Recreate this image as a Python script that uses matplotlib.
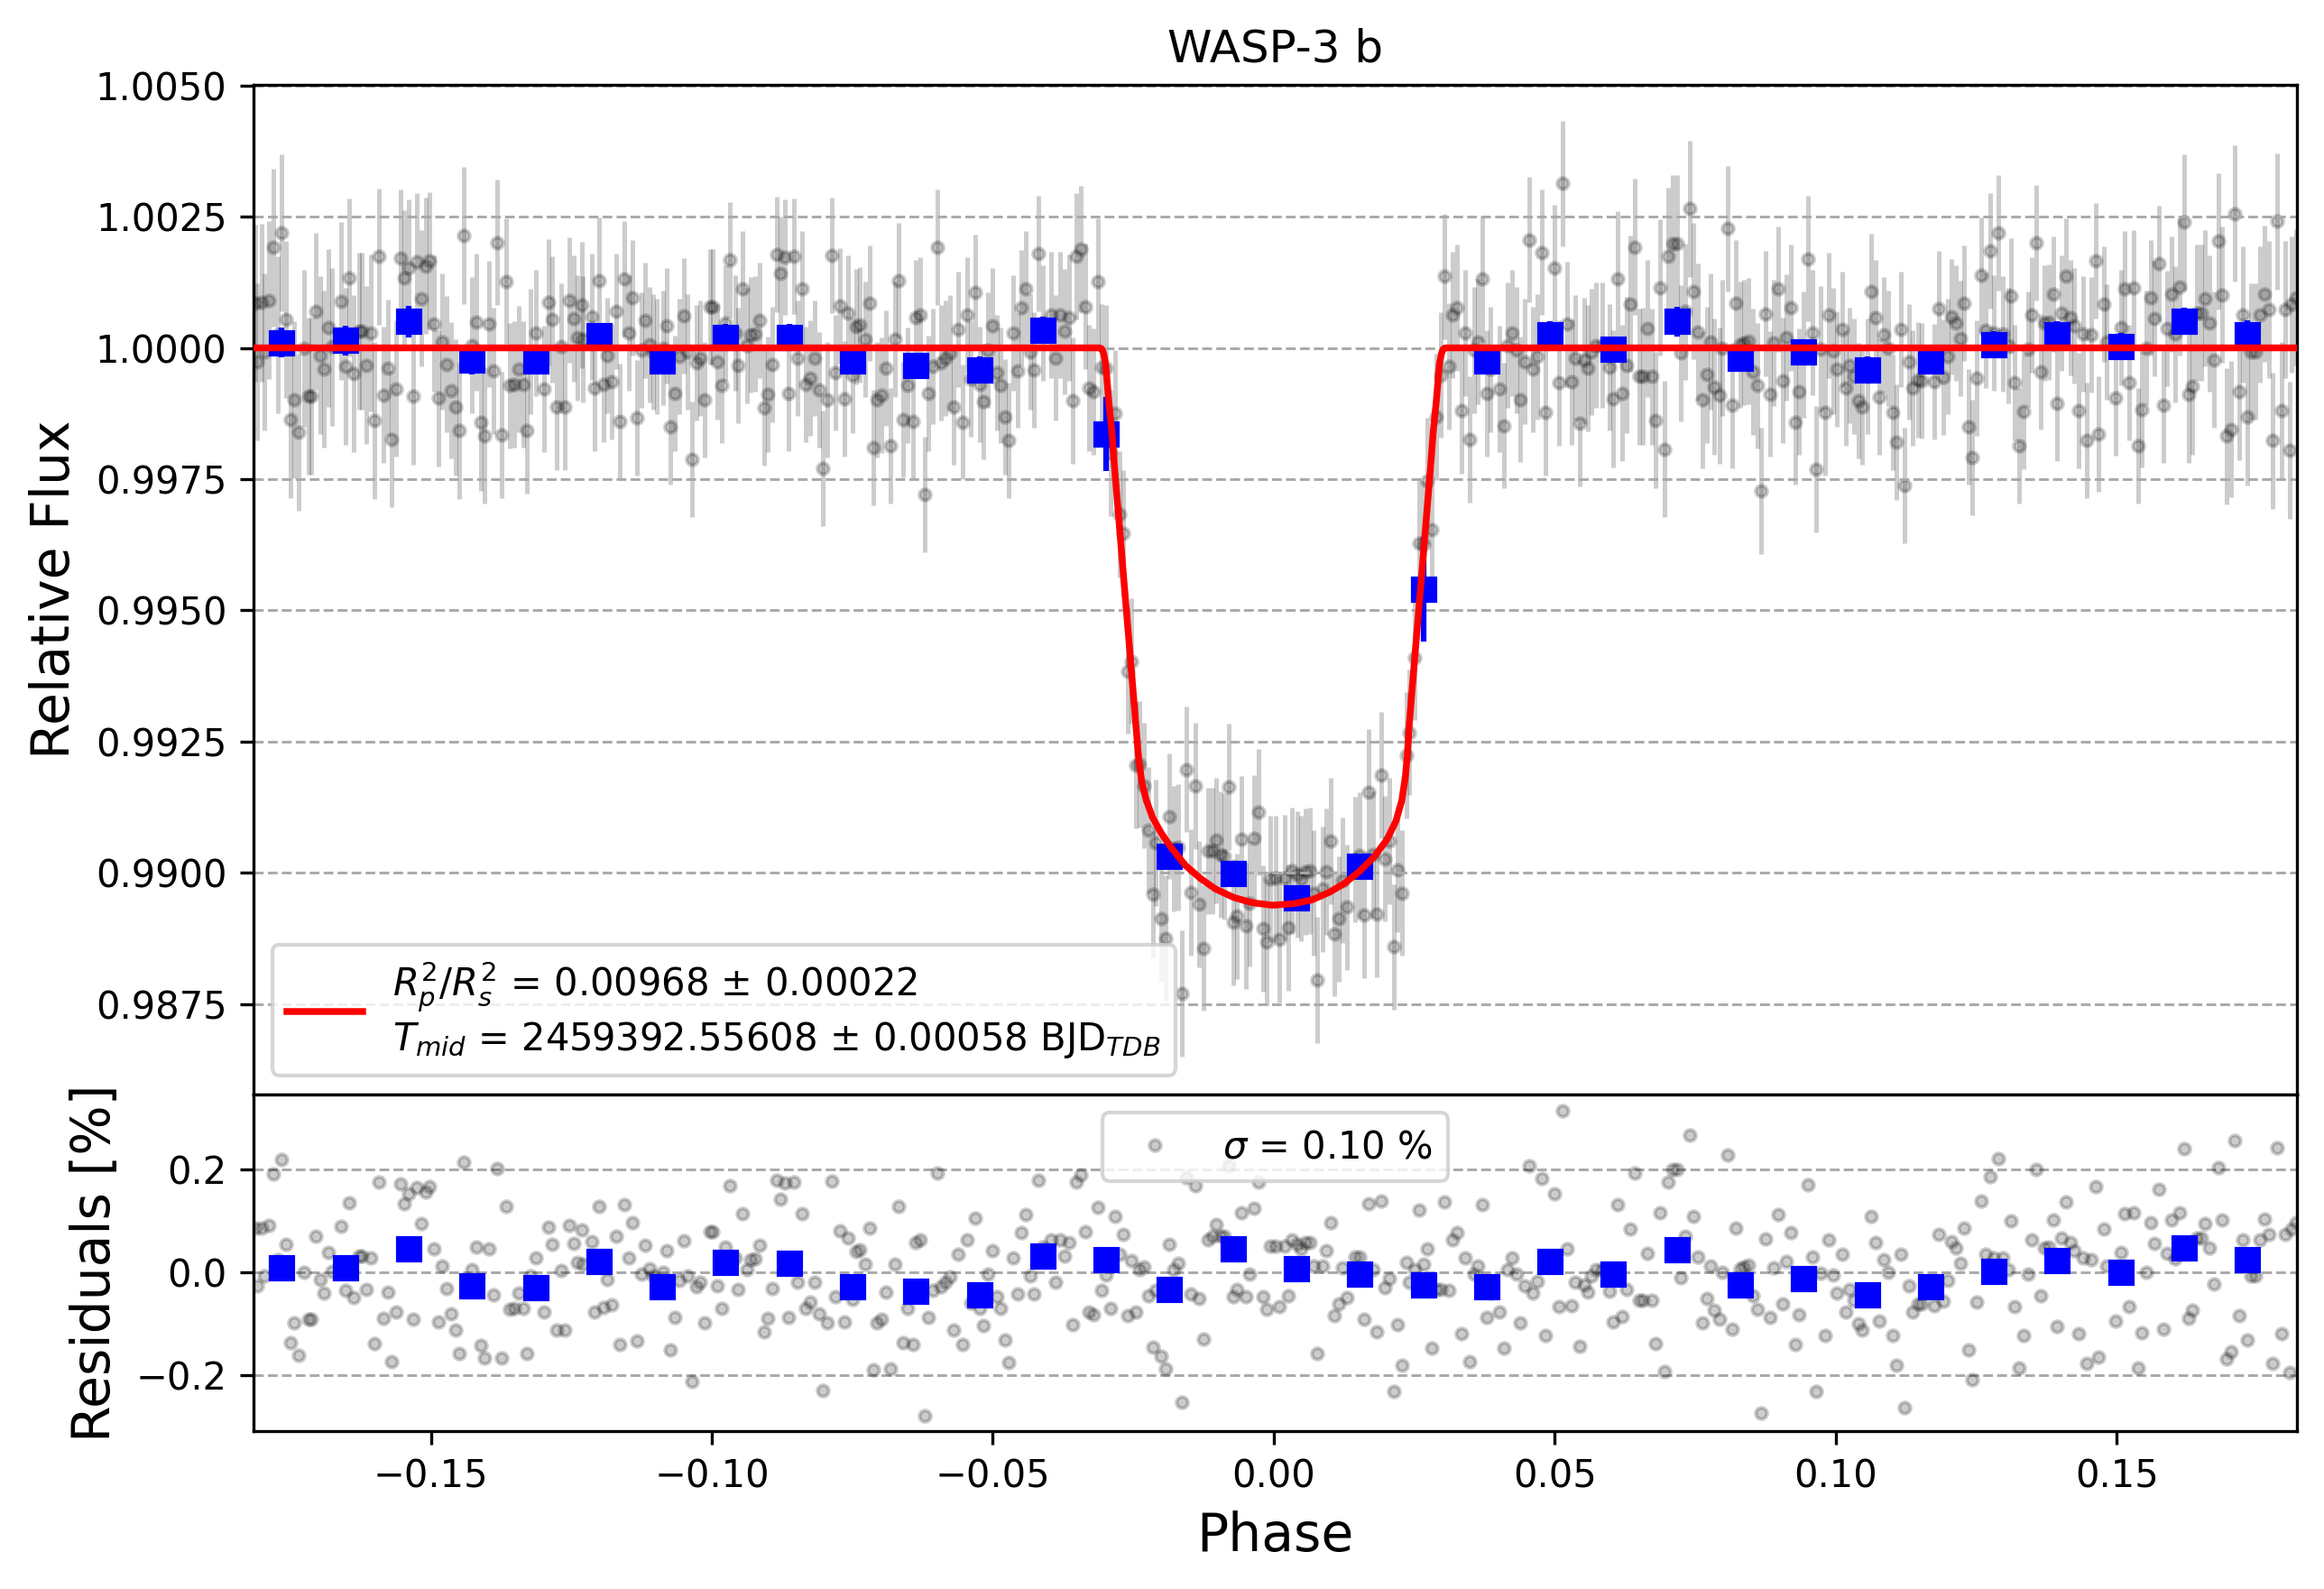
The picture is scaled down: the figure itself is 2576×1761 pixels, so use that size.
import matplotlib
matplotlib.use("Agg")
import matplotlib.pyplot as plt
import numpy as np
from matplotlib.ticker import MultipleLocator, FormatStrFormatter

TARGET = "WASP-3 b"

# residuals of the unbinned points (phase, percent)
res_phase = np.array([
    -0.18122, -0.18095, -0.18015, -0.17961, -0.17881, -0.17800, -0.17720, -0.17656, -0.17576, -0.17501,
    -0.17437, -0.17356, -0.17265, -0.17185, -0.17132, -0.17051, -0.16966, -0.16907, -0.16821, -0.16757,
    -0.16607, -0.16516, -0.16458, -0.16372, -0.16276, -0.16222, -0.16153, -0.16062, -0.16008, -0.15922,
    -0.15848, -0.15767, -0.15703, -0.15617, -0.15543, -0.15473, -0.15398, -0.15313, -0.15248, -0.15163,
    -0.15093, -0.15024, -0.14949, -0.14863, -0.14804, -0.14719, -0.14638, -0.14558, -0.14499, -0.14414,
    -0.14269, -0.14189, -0.14109, -0.14050, -0.13964, -0.13884, -0.13814, -0.13745, -0.13654, -0.13595,
    -0.13520, -0.13440, -0.13360, -0.13295, -0.13226, -0.13130, -0.12985, -0.12905, -0.12841, -0.12755,
    -0.12680, -0.12611, -0.12541, -0.12455, -0.12386, -0.12306, -0.12290,
    -0.12140, -0.12086, -0.12006, -0.11926, -0.11862, -0.11776, -0.11701, -0.11637, -0.11551, -0.11477,
    -0.11407, -0.11332, -0.11257, -0.11188, -0.11107, -0.11043, -0.10974, -0.10872, -0.10802, -0.10738,
    -0.10658, -0.10578, -0.10497, -0.10428, -0.10353, -0.10273, -0.10203, -0.10128, -0.10037, -0.09984,
    -0.09904, -0.09829, -0.09759, -0.09679, -0.09583, -0.09534, -0.09454, -0.09379, -0.09304, -0.09224,
    -0.09149, -0.09074, -0.08999, -0.08930, -0.08849, -0.08780, -0.08705, -0.08630, -0.08545, -0.08470,
    -0.08395, -0.08330, -0.08250, -0.08175, -0.08090, -0.08031, -0.07951, -0.07870, -0.07806, -0.07726,
    -0.07646, -0.07576, -0.07496, -0.07432, -0.07362, -0.07271, -0.07196, -0.07127, -0.07057, -0.06977,
    -0.06907, -0.06827, -0.06747, -0.06672, -0.06602, -0.06522, -0.06426, -0.06378, -0.06298, -0.06217,
    -0.06148,
    -0.06066, -0.05986, -0.05917, -0.05842, -0.05756, -0.05692, -0.05617, -0.05531, -0.05457, -0.05398,
    -0.05307, -0.05237, -0.05168, -0.05087, -0.05007, -0.04932, -0.04863, -0.04782, -0.04718, -0.04638,
    -0.04558, -0.04488, -0.04408, -0.04338, -0.04269, -0.04194, -0.04114, -0.03958, -0.03884, -0.03809,
    -0.03728, -0.03648, -0.03573, -0.03514, -0.03434, -0.03359, -0.03284, -0.03215, -0.03129, -0.03065,
    -0.02990, -0.02910, -0.02830, -0.02738, -0.02680, -0.02599, -0.02530, -0.02455, -0.02385, -0.02310,
    -0.02230, -0.02150, -0.02096, -0.02006, -0.01920, -0.01861, -0.01775, -0.01701, -0.01636, -0.01561,
    -0.01476, -0.01401, -0.01331, -0.01257, -0.01171, -0.01091, -0.01026, -0.00951, -0.00877, -0.00807,
    -0.00727, -0.00652, -0.00577, -0.00502, -0.00433, -0.00352, -0.00272, -0.00192, -0.00128,
    -0.00058, 0.00033, 0.00102, 0.00193, 0.00252, 0.00327, 0.00418, 0.00488, 0.00557, 0.00637,
    0.00702, 0.00771, 0.00862, 0.00937, 0.01012, 0.01076, 0.01151, 0.01226, 0.01301, 0.01451,
    0.01531, 0.01606, 0.01686, 0.01772, 0.01836, 0.01911, 0.01970, 0.02055, 0.02135, 0.02200,
    0.02285, 0.02360, 0.02414, 0.02505, 0.02585, 0.02665, 0.02735, 0.02810, 0.02895, 0.02970,
    0.03034, 0.03115, 0.03184, 0.03259, 0.03339, 0.03403, 0.03484, 0.03564, 0.03634, 0.03703,
    0.03789, 0.03858, 0.04008, 0.04094, 0.04158, 0.04238, 0.04313, 0.04383, 0.04458, 0.04543,
    0.04607, 0.04688, 0.04763, 0.04837, 0.04993, 0.05068, 0.05132, 0.05212, 0.05292, 0.05362,
    0.05442, 0.05517, 0.05581, 0.05651, 0.05731, 0.05838,
    0.05972, 0.06036, 0.06116, 0.06196, 0.06276, 0.06346, 0.06426, 0.06507, 0.06571, 0.06651,
    0.06721, 0.06790, 0.06870, 0.06951, 0.07015, 0.07106, 0.07175, 0.07240, 0.07320, 0.07400,
    0.07464, 0.07550, 0.07630, 0.07710, 0.07775, 0.07844, 0.07930, 0.07989, 0.08074, 0.08154,
    0.08219, 0.08299, 0.08368, 0.08449, 0.08524, 0.08604, 0.08668, 0.08754, 0.08829, 0.08904,
    0.08973, 0.09053, 0.09128, 0.09198, 0.09278, 0.09353, 0.09422, 0.09503, 0.09583, 0.09647,
    0.09727, 0.09808, 0.09877, 0.09958, 0.10027, 0.10113, 0.10177, 0.10252, 0.10332, 0.10402,
    0.10477, 0.10562, 0.10626, 0.10707, 0.10782, 0.10856, 0.10931, 0.11011, 0.11081, 0.11156,
    0.11231, 0.11301, 0.11375, 0.11461, 0.11536, 0.11760, 0.11830, 0.11910,
    0.11992, 0.12056, 0.12141, 0.12222, 0.12280, 0.12361, 0.12436, 0.12505, 0.12585, 0.12671,
    0.12746, 0.12821, 0.12890, 0.12971, 0.13072, 0.13115, 0.13190, 0.13265, 0.13340, 0.13420,
    0.13490, 0.13570, 0.13650, 0.13720, 0.13800, 0.13870, 0.13934, 0.14014, 0.14100, 0.14175,
    0.14244, 0.14324, 0.14399, 0.14469, 0.14549, 0.14624, 0.14683, 0.14768, 0.14827, 0.14988,
    0.15079, 0.15138, 0.15218, 0.15298, 0.15378, 0.15448, 0.15523, 0.15609, 0.15673, 0.15748,
    0.15828, 0.15897, 0.15978, 0.16047, 0.16122, 0.16197, 0.16277, 0.16347, 0.16422, 0.16502,
    0.16571, 0.16646, 0.16727, 0.16807, 0.16877, 0.16957, 0.17032, 0.17101, 0.17181, 0.17251,
    0.17326, 0.17396, 0.17476, 0.17545, 0.17626, 0.17706, 0.17770, 0.17850, 0.17930, 0.18000,
    0.18080, 0.18118, 0.18198,
])
res_pct = np.array([
    0.085, -0.027, 0.086, -0.008, 0.091, 0.191, 0.025, 0.219, 0.054, -0.136,
    -0.099, -0.161, -0.001, -0.092, -0.092, 0.070, -0.014, -0.040, 0.038, 0.002,
    0.089, -0.035, 0.134, -0.049, 0.032, 0.032, -0.033, 0.028, -0.138, 0.174,
    -0.090, -0.038, -0.174, -0.078, 0.171, 0.133, 0.152, -0.092, 0.164, 0.094,
    0.156, 0.166, 0.046, -0.096, 0.012, -0.031, -0.081, -0.113, -0.158, 0.214,
    0.005, 0.049, -0.142, -0.167, 0.046, -0.044, 0.201, -0.166, 0.127, -0.072,
    -0.070, -0.040, -0.070, -0.158, -0.007, 0.028, -0.078, 0.087, 0.054, -0.113,
    0.003, -0.113, 0.091, 0.056, 0.019, 0.082, 0.016,
    0.059, -0.077, 0.128, -0.069, -0.015, -0.064, 0.069, -0.140, 0.131, 0.028,
    0.096, -0.134, -0.004, 0.053, 0.006, -0.007, -0.016, 0.000, 0.042, -0.151,
    -0.087, -0.016, 0.061, -0.008, -0.212, -0.029, -0.020, -0.099, 0.079, 0.079,
    -0.026, -0.071, 0.048, 0.167, 0.028, -0.034, 0.113, 0.005, 0.025, 0.026,
    0.053, -0.115, -0.089, -0.031, 0.178, 0.141, 0.173, -0.087, 0.174, -0.020,
    0.113, -0.070, -0.058, -0.019, -0.080, -0.230, -0.099, 0.176, -0.047, 0.080,
    -0.097, 0.066, -0.053, 0.040, 0.044, 0.016, 0.085, -0.190, -0.099, -0.091,
    -0.038, -0.187, 0.016, 0.128, -0.137, -0.071, -0.140, 0.057, 0.063, -0.279,
    -0.087,
    -0.036, 0.192, -0.029, -0.019, -0.009, -0.112, 0.035, -0.141, 0.063, -0.059,
    0.105, -0.070, -0.103, -0.004, 0.042, -0.048, -0.071, -0.132, -0.176, 0.028,
    -0.043, 0.077, 0.112, -0.008, -0.042, 0.179, 0.048, 0.063, -0.019, 0.063,
    0.031, 0.058, -0.101, 0.174, 0.188, 0.079, -0.077, -0.083, 0.126, -0.035,
    -0.006, -0.071, 0.109, 0.034, 0.074, -0.085, 0.023, -0.078, 0.005, 0.010,
    -0.046, -0.145, -0.036, -0.163, -0.187, 0.054, 0.005, 0.017, -0.252, 0.184,
    -0.043, 0.167, -0.051, -0.129, 0.063, 0.069, 0.093, 0.070, 0.070, 0.206,
    -0.048, -0.034, 0.116, -0.047, -0.003, 0.124, 0.174, -0.047, -0.072,
    0.050, 0.051, -0.066, 0.051, -0.045, 0.063, 0.054, 0.045, 0.057, 0.057,
    0.012, -0.157, 0.012, 0.042, 0.096, -0.084, -0.061, 0.008, -0.049, 0.029,
    0.030, -0.092, 0.133, 0.005, -0.116, 0.138, -0.030, -0.012, -0.231, -0.102,
    -0.181, 0.019, -0.019, 0.005, 0.121, 0.016, 0.045, -0.147, -0.033, -0.033,
    0.137, -0.035, 0.063, 0.077, -0.119, 0.028, -0.174, -0.004, 0.012, 0.131,
    -0.087, -0.041, -0.078, -0.148, 0.005, 0.028, -0.004, -0.098, -0.026, 0.206,
    -0.041, -0.017, 0.182, -0.123, 0.152, -0.067, 0.313, 0.045, -0.065, -0.019,
    -0.144, -0.024, -0.039, -0.008, 0.005, 0.005,
    -0.037, -0.097, 0.131, -0.086, -0.033, 0.084, 0.192, -0.055, -0.054, 0.037,
    -0.055, -0.138, 0.115, -0.193, 0.175, 0.199, 0.199, -0.010, 0.069, 0.265,
    0.108, 0.030, -0.099, -0.051, 0.012, -0.074, -0.091, 0.000, 0.227, -0.110,
    0.085, 0.006, 0.010, 0.013, -0.046, -0.072, -0.273, 0.065, -0.088, 0.009,
    0.112, -0.062, 0.020, 0.076, -0.141, -0.083, -0.013, 0.170, 0.029, -0.231,
    -0.002, -0.123, 0.062, -0.006, -0.040, 0.035, -0.077, -0.033, -0.054, -0.100,
    -0.113, -0.054, 0.108, 0.057, -0.094, 0.025, -0.001, -0.123, -0.180, 0.035,
    -0.263, -0.027, -0.077, -0.061, -0.062, -0.065, 0.074, -0.056,
    -0.016, 0.060, 0.047, 0.018, 0.085, -0.151, -0.209, -0.058, 0.138, 0.034,
    0.185, 0.028, 0.220, 0.027, 0.005, 0.099, -0.066, -0.186, -0.122, -0.003,
    0.063, 0.200, -0.045, 0.047, 0.049, 0.102, -0.106, 0.067, 0.137, 0.057,
    0.042, -0.119, 0.027, -0.177, 0.025, 0.166, -0.165, 0.084, 0.012, -0.095,
    0.038, 0.113, -0.066, 0.115, -0.186, -0.117, 0.000, 0.096, 0.056, 0.160,
    -0.110, 0.037, 0.102, 0.026, 0.116, 0.239, -0.089, -0.073, 0.067, 0.067,
    0.094, 0.047, -0.023, 0.203, 0.101, -0.168, -0.155, 0.256, -0.084, 0.063,
    -0.132, -0.007, -0.007, 0.063, 0.103, 0.073, -0.177, 0.241, -0.119, 0.073,
    -0.195, 0.083, 0.096,
])

# flux uncertainty of the unbinned points, by phase segment
err_seg_start = [-0.19, -0.16, -0.14, -0.12, -0.10, -0.08, -0.06, -0.04, -0.02,
                 0.00, 0.02, 0.04, 0.06, 0.08, 0.10, 0.12, 0.14, 0.16]
err_seg_value = [0.0015, 0.0013, 0.0012, 0.0011, 0.0011, 0.0011, 0.0011, 0.0012, 0.0012,
                 0.0012, 0.0012, 0.0012, 0.0013, 0.0012, 0.0011, 0.0011, 0.0011, 0.0013]

# best fit transit model
model_phase = [-0.1820, -0.03098, -0.03060, -0.03028, -0.02990, -0.02937, -0.02883, -0.02830,
               -0.02776, -0.02723, -0.02670, -0.02616, -0.02562, -0.02509, -0.02456, -0.02402,
               -0.02348, -0.02268, -0.02161, -0.02000, -0.01813, -0.01573, -0.01305, -0.01037,
               -0.00716, -0.00395, -0.00021, 0.00353, 0.00674, 0.00995, 0.01263, 0.01531,
               0.01798, 0.02013, 0.02173, 0.02279, 0.02343, 0.02376, 0.02412, 0.02465, 0.02518,
               0.02572, 0.02626, 0.02679, 0.02732, 0.02786, 0.02839, 0.02893, 0.02946, 0.02984,
               0.03016, 0.03054, 0.1822]
model_flux = [1.0, 1.0, 0.99998, 0.99989, 0.99968, 0.99899, 0.99842, 0.99767,
              0.99698, 0.99629, 0.99560, 0.99491, 0.99422, 0.99353, 0.99284, 0.99215,
              0.99172, 0.99138, 0.99106, 0.99075, 0.99046, 0.99014, 0.98989, 0.98969,
              0.98953, 0.98943, 0.98938, 0.98941, 0.98948, 0.98963, 0.98980, 0.99003,
              0.99032, 0.99063, 0.99098, 0.99138, 0.99184, 0.99224, 0.99284, 0.99353, 0.99422,
              0.99491, 0.99560, 0.99629, 0.99698, 0.99767, 0.99842, 0.99899, 0.99968, 0.99989,
              0.99998, 1.0, 1.0]

# binned points
bin_phase = [-0.17656, -0.16516, -0.15393, -0.14269, -0.13130, -0.12006, -0.10883, -0.09759,
             -0.08619, -0.07496, -0.06372, -0.05237, -0.04108, -0.02985, -0.01861, -0.00721,
             0.00402, 0.01526, 0.02665, 0.03789, 0.04912, 0.06036, 0.07175, 0.08299,
             0.09422, 0.10562, 0.11686, 0.12810, 0.13934, 0.15073, 0.16197, 0.17320]
bin_flux = [1.00010, 1.00014, 1.00050, 0.99977, 0.99975, 1.00023, 0.99975, 1.00020,
            1.00020, 0.99975, 0.99966, 0.99958, 1.00034, 0.99836, 0.99032, 0.98999,
            0.98953, 0.99013, 0.99540, 0.99975, 1.00025, 0.99997, 1.00050, 0.99980,
            0.99992, 0.99958, 0.99975, 1.00006, 1.00025, 1.00003, 1.00051, 1.00025]
bin_flux_err = [0.00028, 0.00028, 0.00030, 0.00028, 0.00025, 0.00025, 0.00025, 0.00025,
                0.00025, 0.00025, 0.00025, 0.00025, 0.00025, 0.00070, 0.00020, 0.00020,
                0.00020, 0.00020, 0.00100, 0.00025, 0.00025, 0.00025, 0.00028, 0.00025,
                0.00025, 0.00025, 0.00025, 0.00025, 0.00025, 0.00025, 0.00025, 0.00028]
bin_res = [0.0087, 0.0087, 0.0453, -0.0262, -0.0291, 0.0209, -0.0274, 0.0191,
           0.0180, -0.0274, -0.0378, -0.0448, 0.0319, 0.0244, -0.0332, 0.0453,
           0.0075, -0.0029, -0.0245, -0.0274, 0.0209, -0.0029, 0.0441, -0.0245,
           -0.0117, -0.0431, -0.0274, 0.0017, 0.0232, 0.0000, 0.0470, 0.0244]

rprs2 = "0.00968 ± 0.00022"
tmid = "2459392.55608 ± 0.00058"
sigma_pct = 0.10

# detrended flux = model + residual
model_at_pts = np.interp(res_phase, model_phase, model_flux)
flux = model_at_pts + res_pct / 100
idx = np.searchsorted(err_seg_start, res_phase, side="right") - 1
flux_err = np.array(err_seg_value)[idx]

fig = plt.figure(figsize=(2576 / 300, 1761 / 300), dpi=300)
ax_lc = fig.add_axes([0.109, 0.3114, 0.8794, 0.6355])
ax_res = fig.add_axes([0.109, 0.0994, 0.8794, 0.2120])

grid_kw = dict(axis="y", linestyle="--", color="#a9a9a9", linewidth=0.7)
pt_kw = dict(color="k", alpha=0.2, ms=3.0, mew=1.0)

# light curve panel
ax_lc.errorbar(res_phase, flux, yerr=flux_err, fmt="o", elinewidth=1.2, zorder=1, **pt_kw)
ax_lc.errorbar(bin_phase, bin_flux, yerr=bin_flux_err, fmt="s", color="b",
               ms=6, mew=1, zorder=10)
ax_lc.plot(model_phase, model_flux, "r-", lw=1.8, zorder=100,
           label=r"$R_{p}^{2}/R_{s}^{2}$ = " + rprs2 + "\n"
           + r"$T_{mid}$ = " + tmid + r" BJD$_{TDB}$")
ax_lc.set_title(TARGET, fontsize=12)
ax_lc.set_ylabel("Relative Flux", fontsize=14)
ax_lc.set_xlim(-0.1816, 0.1821)
ax_lc.set_ylim(0.98578, 1.00502)
ax_lc.yaxis.set_major_locator(MultipleLocator(0.0025))
ax_lc.yaxis.set_major_formatter(FormatStrFormatter("%.4f"))
ax_lc.get_xaxis().set_visible(False)
ax_lc.grid(**grid_kw)
ax_lc.legend(loc="lower left")

# residual panel
ax_res.plot(res_phase, res_pct, "o", ls="none",
            label=r"$\sigma$ = {:.2f} %".format(sigma_pct), **pt_kw)
ax_res.plot(bin_phase, bin_res, "s", color="b", ms=6, mew=1, zorder=10)
ax_res.set_xlim(-0.1816, 0.1821)
ax_res.set_ylim(-0.308, 0.345)
ax_res.yaxis.set_major_locator(MultipleLocator(0.2))
ax_res.xaxis.set_major_locator(MultipleLocator(0.05))
ax_res.set_xlabel("Phase", fontsize=14)
ax_res.set_ylabel("Residuals [%]", fontsize=14)
ax_res.grid(**grid_kw)
ax_res.legend(loc="upper center")

fig.savefig("out.png", dpi=300)
